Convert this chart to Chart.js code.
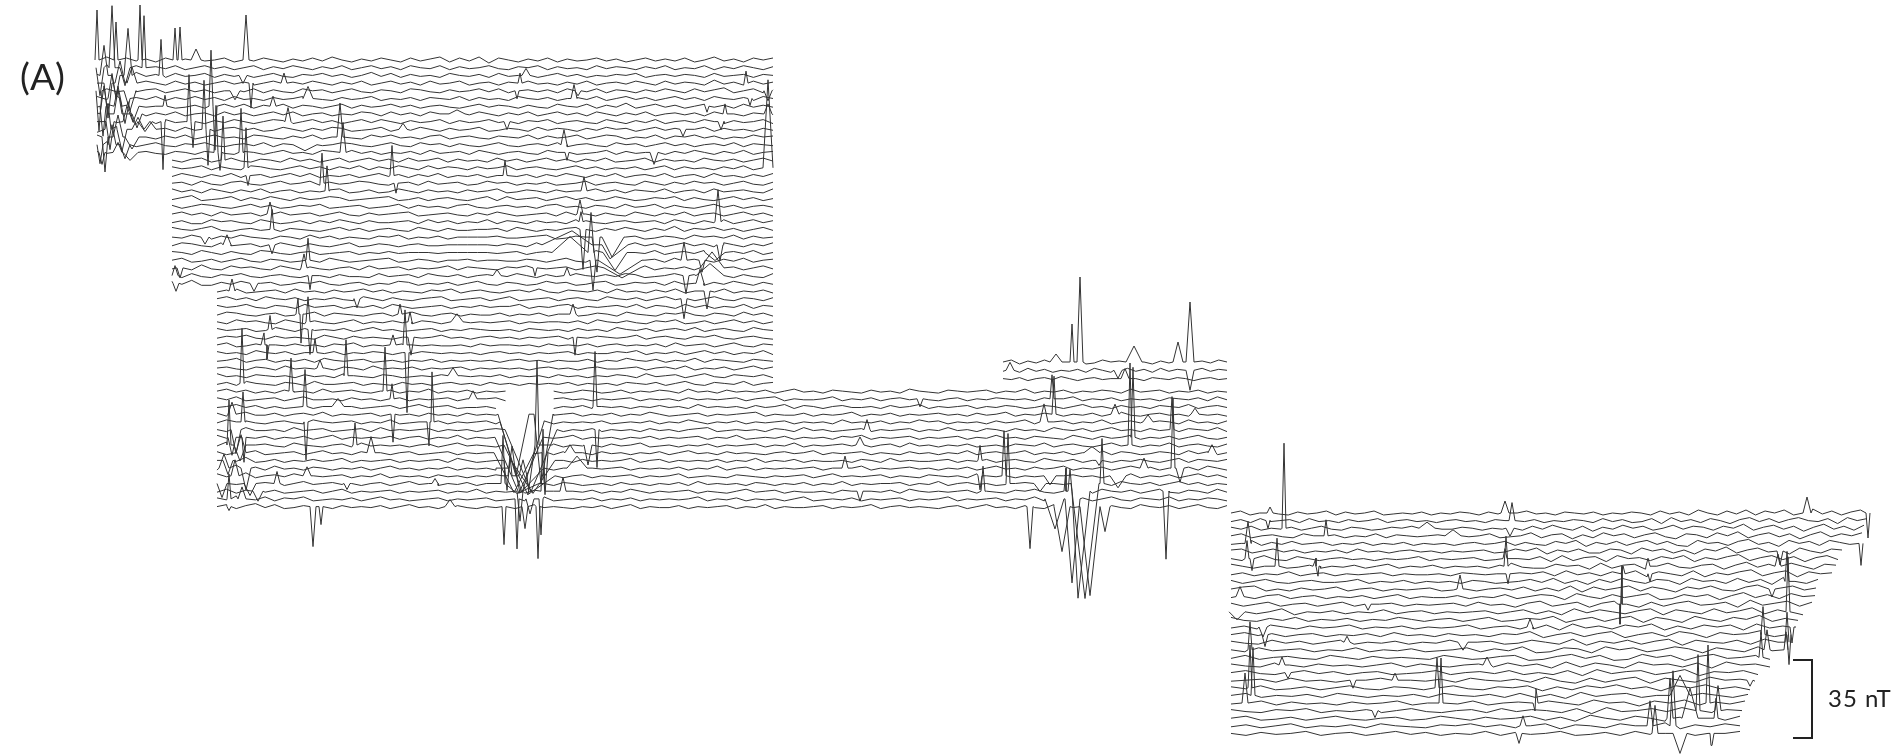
<!DOCTYPE html>
<html><head><meta charset="utf-8">
<style>
html,body{margin:0;padding:0;background:#fff;overflow:hidden}
#wrap{position:relative;width:1894px;height:755px}
canvas{position:absolute;left:0;top:0}
.t{position:absolute;font-family:Lato,"Open Sans",sans-serif;color:#222;white-space:nowrap;line-height:1}
#bracket{position:absolute;left:1793px;top:659px;width:18px;height:76px;border:solid #222;border-width:2.5px 2.5px 2.5px 0}
</style>
</head><body><div id="wrap">
<canvas id="c" width="1894" height="755"></canvas>
<div class="t" style="left:20px;top:57px;font-size:37px">(A)</div>
<div class="t" style="left:1828px;top:686px;font-size:24px;letter-spacing:1px">35 nT</div>
<div id="bracket"></div>
</div>
<script src="https://cdn.jsdelivr.net/npm/chart.js@4/dist/chart.umd.min.js"></script>
<script>
const traceMid=3;
const blockAStarts=[97,97,97,97,97,97,97,97,97,97,97,97,97,172,172,172,172,172,172,172,172,172,172,172,172,172,172,172,172,172,217,217,217,217,217,217,217,217,217,217,217,217,217,217,217,217,217,217,217,217,217,217,217,217,217,217,217,217,217];
const blockAEnds=[773,773,773,773,773,773,773,773,773,773,773,773,773,773,773,773,773,773,773,773,773,773,773,773,773,773,773,773,773,773,773,773,773,773,773,773,773,773,773,773,773,773,773,1227,1227,1227,1227,1227,1227,1227,1227,1227,1227,1227,1227,1227,1227,1227,1227];
const blockARows=[
[3,6,1,5,2,4,1,5,2,4,6,2,3,5,1,4,2,5,3,1,4,2,5,2,6,3,1,4,2,5,3,1,5,2,4,6,1,5,2,6,0,5,3,1,4,2,5,1,4,2,3,5,2,4,1,3,5,2,4,2,5,1,3,6,2,4,1,5,3,5],
[2,6,3,0,5,1,4,2,5,1,3,5,2,4,1,3,5,1,4,2,5,3,1,4,2,5,1,3,5,2,4,1,5,3,2,5,1,4,2,3,5,2,1,4,3,5,1,4,2,3,1,5,2,4,3,1,4,2,5,1,3,2,5,1,4,2,5,3,1,4],
[4,1,5,2,6,2,4,1,5,2,3,5,1,4,2,5,1,3,5,2,1,4,3,5,2,4,1,3,6,2,5,1,4,2,3,1,5,3,2,4,1,5,2,3,4,1,3,5,2,4,1,3,2,4,3,5,1,3,4,2,4,3,1,5,2,3,4,1,4,3],
[3,6,2,5,1,5,3,1,5,2,4,1,3,5,2,4,1,3,5,1,4,2,5,3,1,4,2,5,1,3,5,2,4,1,5,2,3,5,1,3,4,1,4,2,5,2,3,1,4,2,5,1,3,4,2,5,3,1,5,2,4,3,1,6,2,4,1,5,2,4],
[1,5,2,7,2,4,5,1,3,5,2,4,1,3,4,2,5,1,4,2,1,5,3,4,1,3,5,2,1,4,3,1,5,4,2,1,4,2,3,5,2,5,1,3,4,2,4,1,5,3,2,5,1,4,3,1,4,2,5,3,1,5,2,4,6,1,3,5,1,4],
[5,2,6,1,4,2,5,1,4,2,5,2,4,1,5,2,3,1,4,2,3,5,6,2,1,4,2,3,5,1,3,2,4,1,4,3,2,5,1,4,2,3,1,5,3,2,4,1,3,4,2,5,1,3,5,2,4,1,3,5,2,4,1,5,3,2,4,1,5,3],
[2,5,1,4,6,2,3,5,1,2,4,1,3,5,2,5,1,4,2,5,1,4,3,1,3,5,1,4,2,3,5,2,4,1,3,4,2,1,3,5,2,4,3,1,4,2,1,5,3,2,5,1,4,2,6,1,3,5,2,4,1,3,5,2,4,1,5,2,4,2],
[4,1,6,3,5,1,4,2,5,1,3,4,1,5,2,4,1,3,5,2,5,1,3,4,1,3,2,5,4,1,5,2,4,1,5,3,1,4,2,5,3,1,4,2,5,1,3,5,2,4,1,5,3,1,4,2,5,1,3,4,2,4,1,5,2,3,1,4,3,2],
[3,6,2,5,0,4,1,5,2,3,5,1,4,2,5,3,1,3,5,4,1,3,5,2,4,1,3,5,2,5,3,1,4,2,3,5,1,4,2,3,5,2,5,1,4,3,5,1,3,4,2,1,5,3,1,4,2,5,1,3,4,2,5,3,1,4,2,3,5,1],
[0,4,6,2,5,1,2,4,1,5,2,3,1,4,5,2,4,1,2,5,3,1,4,2,5,4,1,2,3,5,1,4,2,5,3,1,4,2,3,5,1,2,4,3,1,5,2,4,3,1,4,2,5,3,4,1,3,5,2,4,1,3,5,1,4,2,3,1,4,2],
[5,2,4,1,6,3,1,4,2,5,1,3,5,2,3,1,5,4,2,1,4,2,5,1,3,4,2,1,5,3,5,2,3,1,4,5,1,3,4,2,1,4,3,2,5,1,4,2,3,5,1,3,5,4,1,3,2,5,1,4,3,5,2,4,1,3,2,5,3,4],
[2,6,3,5,1,3,5,2,1,4,3,5,2,1,3,4,2,5,1,4,3,1,4,2,3,5,4,2,1,3,5,2,1,5,3,4,1,4,2,1,3,5,2,1,3,4,2,5,1,3,4,2,1,5,3,4,1,3,5,2,4,1,3,4,2,5,1,4,3,2],
[4,2,5,3,1,4,2,1,4,3,1,4,5,2,1,4,3,1,3,5,2,3,1,5,4,1,5,2,4,1,3,2,4,1,5,2,3,4,1,5,3,1,3,4,2,1,5,3,4,1,2,3,5,1,4,2,3,5,1,4,2,5,3,1,4,2,5,1,3,4],
[3,1,4,5,1,3,5,2,1,4,3,1,5,2,4,1,3,5,1,3,5,2,4,1,5,2,3,5,1,4,2,3,1,5,2,4,1,3,5,2,4,1,4,2,5,1,2,3,5,1,4,2,3,1,5,3,2,4,1,3,5,2],
[4,2,3,5,1,4,2,1,5,4,2,1,3,5,2,4,1,4,2,5,1,4,2,5,3,1,5,2,4,3,1,4,2,3,5,1,3,4,2,1,3,5,2,4,1,3,2,4,1,3,5,1,4,2,3,1,4,2,5,1,3,4],
[2,5,3,1,4,2,5,1,3,4,1,3,5,2,5,1,3,2,4,1,3,5,2,4,1,4,2,5,1,3,2,4,1,3,5,2,4,1,4,2,5,3,1,4,2,5,1,3,4,2,5,1,3,4,1,5,2,3,1,4,2,5],
[3,4,1,5,2,1,4,5,2,1,3,5,2,3,5,1,4,2,3,5,4,2,1,3,4,1,5,2,3,4,1,2,5,3,4,1,3,2,4,1,2,3,5,1,3,4,2,1,5,3,1,4,2,5,3,4,1,3,5,2,1,4],
[5,2,4,1,5,3,1,4,2,5,1,3,4,1,3,2,4,5,1,2,4,1,2,5,3,1,4,2,3,1,4,2,3,5,1,2,4,3,1,4,2,3,1,5,2,4,1,4,3,2,5,1,3,4,1,5,2,3,4,2,1,5],
[2,4,6,1,2,3,5,1,4,2,5,3,1,4,2,3,5,4,1,2,3,4,5,1,2,4,1,3,4,2,1,3,5,1,5,2,3,4,1,3,5,2,4,1,2,5,3,1,2,4,3,5,1,4,2,1,3,5,2,4,1,3],
[4,1,3,5,4,2,1,3,5,2,4,1,2,4,3,5,1,2,3,4,1,2,3,5,1,4,2,3,1,4,5,2,1,3,4,2,3,1,4,5,2,3,1,4,3,1,5,2,3,5,1,4,2,1,3,5,2,4,1,3,4,2],
[3,5,2,4,1,5,2,3,4,1,3,5,2,3,4,1,3,5,2,1,4,2,3,4,5,1,2,3,4,2,1,4,2,5,3,1,2,3,4,1,5,2,3,1,4,2,1,5,3,1,4,2,5,1,3,4,1,3,5,2,4,1],
[2,4,1,1,5,3,4,2,1,5,3,1,2,4,1,4,2,5,3,1,4,2,2,3,4,1,5,2,4,1,3,2,5,1,4,3,1,4,2,3,1,5,4,2,1,3,4,2,3,4,1,5,3,1,4,2,5,1,3,5,2,4],
[5,3,2,4,6,2,1,3,4,2,5,1,4,3,2,1,3,5,2,4,1,3,4,2,1,5,3,1,4,2,2,3,3,4,1,5,3,1,3,2,4,5,2,1,4,2,5,3,1,4,2,6,1,4,3,5,2,4,1,3,5,2],
[3,2,5,1,1,4,2,5,3,2,1,4,3,1,5,2,4,1,3,2,1,4,3,5,1,3,2,4,1,3,3,3,3,4,2,2,3,4,5,1,2,4,3,5,1,2,3,4,1,2,4,3,1,5,3,4,2,5,1,4,2,3],
[2,5,4,2,1,5,2,3,4,1,2,5,3,1,4,2,1,3,5,1,2,4,3,1,3,4,2,2,3,3,3,3,3,2,4,3,1,5,3,2,4,1,3,4,6,2,1,5,2,4,1,3,5,2,4,1,5,3,1,4,2,5],
[4,3,1,5,3,1,4,2,1,5,4,2,1,3,4,1,2,3,4,1,3,2,4,2,3,3,3,2,3,3,3,3,3,2,3,4,1,3,4,2,1,4,3,5,2,4,1,3,2,5,1,3,4,2,5,1,3,4,2,5,1,3],
[3,5,1,2,4,1,3,5,2,1,4,3,1,2,4,1,5,3,1,2,3,4,5,1,2,4,3,1,3,3,4,2,3,3,2,2,4,3,1,3,5,2,1,4,6,1,5,2,3,4,1,5,2,4,3,1,4,2,5,1,3,4],
[2,4,1,6,2,1,5,3,4,2,1,5,3,1,4,2,1,3,4,1,5,2,3,4,1,3,2,3,5,1,4,3,2,1,4,3,5,1,2,3,4,1,3,5,2,1,2,4,5,1,3,2,4,1,5,3,2,4,1,3,5,2],
[4,1,5,2,1,4,3,5,2,1,3,4,2,1,5,3,1,4,2,2,1,5,2,3,4,1,5,3,2,4,1,3,4,1,2,5,3,1,4,2,1,5,3,2,4,2,5,4,1,2,3,5,1,4,2,3,5,1,4,2,1,5],
[5,2,6,1,1,4,2,5,1,3,4,1,2,4,3,5,2,1,3,4,1,3,2,5,4,1,3,2,4,1,3,5,2,1,4,3,1,2,5,3,4,1,2,4,5,1,2,4,3,4,1,5,2,3,1,4,2,5,3,1,4,2],
[2,4,5,1,2,3,4,1,5,2,3,1,4,2,3,5,2,4,1,3,2,1,4,3,5,1,3,4,2,1,3,4,2,5,2,1,4,3,2,4,1,5,2,3,1,4,2,5,1,3,4,2,5,1,3,2,4,1],
[3,5,2,4,1,5,3,2,4,1,3,2,4,2,1,5,3,1,4,2,1,3,4,5,1,2,3,4,1,3,5,1,2,3,4,1,3,4,2,1,5,3,2,4,1,3,5,2,4,1,3,5,2,1,4,3,1,4],
[4,2,3,5,2,1,4,3,1,5,2,3,4,1,3,2,4,1,5,3,1,2,3,4,1,3,2,4,2,3,3,5,1,3,2,4,5,1,3,2,3,4,2,5,1,4,3,1,5,2,4,1,3,2,5,1,4,3],
[2,5,4,2,1,3,4,1,2,3,5,1,4,3,2,1,3,4,1,3,5,2,1,3,4,1,3,2,2,4,1,3,2,4,1,3,3,1,2,4,3,1,5,3,2,1,4,3,5,2,1,4,3,1,5,2,4,1],
[3,1,5,3,4,2,1,5,3,1,4,2,1,3,5,1,3,2,4,2,1,4,3,1,3,5,2,3,2,3,4,1,3,2,3,3,2,4,1,5,3,2,4,2,1,4,3,5,1,2,4,1,3,5,2,4,1,3],
[4,2,3,4,1,2,5,3,1,4,2,3,2,4,1,3,5,2,3,1,2,3,4,1,3,2,4,3,2,2,3,1,4,3,2,3,1,4,2,3,1,5,3,2,4,1,3,4,2,5,1,3,4,2,1,5,3,2],
[2,4,3,5,2,1,4,2,3,2,1,5,3,1,4,2,3,2,1,3,4,2,3,5,2,3,1,3,4,2,3,1,3,2,3,4,1,3,2,4,3,2,3,5,1,3,4,2,1,4,3,5,2,1,3,4,2,1],
[3,5,1,2,4,1,3,2,4,2,3,1,4,3,5,1,3,2,1,4,3,2,3,2,2,3,1,4,2,3,3,2,3,1,4,2,3,2,4,1,3,4,2,3,2,4,1,5,2,3,4,1,3,5,2,1,4,3],
[4,2,3,1,5,3,2,4,1,3,2,2,4,1,3,2,4,3,1,3,2,4,3,2,3,2,3,1,3,4,2,3,1,3,2,3,4,1,3,2,2,4,3,5,1,3,2,4,1,3,5,2,4,1,3,2,5,1],
[2,3,5,1,3,4,1,3,2,4,1,5,3,2,3,4,1,2,3,1,3,2,4,1,3,2,3,2,3,1,3,4,2,3,1,3,2,2,4,1,3,2,5,3,2,4,1,3,2,5,1,4,3,2,1,4,3,2],
[3,4,2,1,4,3,1,5,2,3,2,3,1,4,3,1,5,2,3,2,4,1,3,2,3,4,1,3,2,3,2,3,1,3,4,2,3,1,3,4,2,2,3,4,1,3,4,2,5,1,3,2,4,1,3,5,2,4],
[5,2,3,1,4,3,2,3,1,4,2,3,1,5,3,2,1,4,3,1,2,3,2,4,1,3,2,3,2,4,1,3,2,3,1,4,2,3,1,3,2,4,3,1,5,2,3,4,1,3,5,2,1,4,3,2,4,1],
[2,4,1,5,3,2,1,4,3,1,5,2,2,3,4,1,3,2,1,4,2,3,1,3,4,2,3,1,4,2,3,1,3,2,3,2,4,1,3,2,3,1,4,3,2,4,1,3,5,2,1,4,3,2,5,1,3,4],
[3,5,2,4,1,3,1,4,2,3,1,5,2,3,4,2,1,3,4,1,3,2,5,1,3,2,4,1,3,2,3,1,3,4,2,3,1,2,4,3,1,2,4,1,3,2,4,3,1,5,2,3,1,4,2,3,2,4,1,3,5,2,3,1,4,3,2,1,4,2,3,1,5,3,2,1,4,3,2,3,4,1,3,2,5,1,3,2,4,1,3,2,4,3,1,5,2,3,4,1,3,2,4,1,3,2],
[4,2,5,1,2,3,4,1,3,5,2,2,3,1,4,2,3,1,2,4,1,3,2,3,4,1,3,2,3,4,1,5,3,2,1,3,4,2,3,1,3,2,3,4,1,3,2,3,1,4,2,3,2,3,4,1,3,4,5,1,3,2,2,3,5,1,3,2,4,1,3,4,2,3,2,1,3,4,1,3,2,4,3,2,3,1,4,2,3,5,1,3,2,4,1,3,2,3,1,4,3,2,4,1,5,2],
[2,3,5,2,4,1,3,1,2,4,1,3,2,5,3,1,2,3,4,1,3,5,2,3,4,1,2,2,3,1,3,4,2,3,4,1,3,2,4,1,3,2,3,1,3,2,4,2,3,1,5,2,3,2,3,1,4,2,3,5,1,4,3,1,3,4,2,2,3,1,4,2,3,5,1,3,2,3,4,1,3,2,4,3,1,2,4,3,1,3,5,2,3,1,4,2,3,1,4,3,2,5,1,3,4,2],
[4,1,3,5,2,2,4,1,3,4,2,5,1,3,2,3,4,1,3,2,3,1,4,2,3,1,4,2,3,2,3,2,4,1,3,2,3,4,1,3,2,4,1,3,2,5,3,1,2,3,4,1,3,2,3,4,5,1,3,2,2,4,1,3,2,3,5,1,3,2,4,1,3,2,3,4,2,3,1,4,2,3,5,1,3,2,4,3,1,3,2,4,1,3,5,2,1,3,4,2,3,1,5,2,3,1],
[2,5,3,4,2,1,3,4,2,1,5,3,2,3,4,1,3,2,5,1,2,3,2,4,1,3,2,3,4,1,2,3,2,3,4,1,3,2,3,2,4,1,2,3,2,4,1,3,2,5,3,1,3,2,4,1,3,2,3,4,1,3,2,3,1,5,2,3,2,4,1,3,2,5,3,4,1,3,2,3,1,4,2,3,5,1,2,3,4,1,3,2,5,1,3,4,2,1,4,3,1,5,2,3,1,4],
[3,1,4,5,2,2,3,1,5,2,3,4,1,2,3,4,1,5,2,3,2,3,4,1,3,2,3,1,3,4,2,3,1,5,2,3,1,3,2,4,1,3,2,3,1,4,2,3,1,3,4,5,1,2,3,2,3,1,4,3,1,5,2,3,1,2,3,4,1,3,2,3,4,1,3,2,5,2,3,1,4,3,1,4,2,3,1,5,3,2,4,1,3,5,2,3,1,4,2,3,1,4,3,2,5,1],
[5,2,3,6,2,4,1,3,2,4,1,3,5,1,3,2,3,2,4,1,3,4,1,3,2,5,1,3,2,3,2,3,4,1,3,2,3,5,1,3,2,3,1,3,2,4,1,3,2,3,4,1,3,2,5,1,2,3,2,4,1,3,2,3,1,4,3,5,1,3,2,3,4,1,3,2,3,4,1,3,2,5,2,3,1,4,3,2,1,5,3,1,4,2,3,5,1,3,2,4,1,3,5,2,1,3],
[2,6,1,5,3,4,2,1,5,3,2,1,3,4,1,5,2,3,2,3,1,3,4,1,3,5,2,3,2,1,3,4,1,3,2,4,1,3,2,3,1,4,2,3,5,1,2,3,1,3,2,4,1,3,2,3,4,1,3,2,5,1,3,2,3,4,2,3,1,3,4,1,5,2,3,1,3,2,4,1,2,3,1,4,3,2,5,1,3,4,2,1,3,5,2,4,1,3,2,5,1,3,4,2,1,4],
[4,1,6,2,5,1,2,3,4,1,3,5,2,3,1,4,2,3,1,3,4,1,2,3,4,1,3,2,3,5,1,3,2,2,3,1,4,2,3,1,4,2,3,1,3,2,4,1,3,5,2,3,1,4,2,3,2,1,3,4,2,3,5,1,3,2,3,4,1,3,2,1,4,2,3,1,3,2,5,1,3,4,2,3,5,1,3,2,4,1,3,2,5,1,4,3,1,2,4,3,1,5,2,4,1,3],
[3,5,2,6,1,2,4,1,3,2,4,2,3,5,1,3,2,3,4,1,3,2,3,4,1,5,3,1,2,3,2,3,4,1,3,2,3,1,4,2,3,2,3,5,1,3,4,1,3,2,3,2,4,1,3,2,5,1,3,2,4,1,3,2,2,3,1,4,3,1,5,2,3,2,2,3,4,1,3,2,4,1,3,4,2,1,5,3,2,4,1,3,5,1,3,2,4,2,1,3,5,1,4,3,2,4],
[1,4,6,2,4,1,5,2,3,1,4,3,1,3,2,4,1,3,5,2,3,1,3,2,4,1,3,2,3,1,4,2,3,2,3,1,3,5,1,3,2,3,4,1,3,2,3,2,4,1,3,2,5,1,3,4,1,3,2,3,2,3,4,1,3,2,3,5,1,3,2,3,4,2,3,1,3,2,4,1,3,5,2,3,1,4,2,3,5,1,3,2,4,1,3,5,2,4,1,3,2,4,1,5,3,1],
[5,2,4,6,1,3,4,2,5,1,3,2,3,4,1,3,2,5,1,3,2,3,1,4,2,3,1,3,2,4,3,1,5,2,2,3,1,3,4,1,3,2,3,4,1,3,2,3,5,1,2,3,2,1,4,3,2,1,3,2,3,4,1,3,5,2,3,2,3,4,1,3,2,1,4,3,2,3,1,5,3,2,4,1,3,2,5,1,3,4,2,3,1,4,3,5,1,3,2,4,1,3,5,2,4,1],
[3,6,2,5,3,4,2,1,3,5,2,3,4,2,3,1,3,4,1,3,5,2,3,1,3,2,4,1,3,2,3,1,5,2,3,1,4,3,1,2,3,1,4,2,3,1,3,2,4,1,5,2,3,2,3,1,4,3,1,3,2,4,1,3,2,5,1,3,2,3,3,4,1,3,2,5,1,3,4,2,3,1,2,3,4,1,5,3,2,1,3,4,2,1,5,3,2,4,1,3,5,2,4,1,3,2],
[2,5,1,4,6,2,4,1,2,3,4,1,3,5,1,3,2,3,4,1,3,2,3,4,1,3,2,5,1,3,2,3,1,4,2,3,1,3,2,4,1,3,2,5,3,1,3,2,3,4,1,3,2,1,3,5,2,3,4,1,3,2,2,3,1,4,3,1,3,2,4,1,5,3,2,3,2,3,4,1,3,2,1,4,3,5,2,1,3,4,2,1,5,3,2,4,1,3,5,2,1,4,3,1,5,2],
[4,2,6,3,2,5,1,4,3,5,1,2,3,2,4,1,3,5,2,3,1,2,3,4,1,3,2,3,4,1,2,3,1,3,5,1,2,3,2,4,1,3,2,4,1,3,2,3,2,3,5,1,3,2,4,1,3,2,3,1,3,5,1,2,3,2,4,1,3,2,3,4,1,3,2,3,5,1,3,2,3,4,1,3,2,5,1,4,3,2,4,1,3,5,2,1,4,3,2,5,1,3,2,4,3,1],
[3,5,1,4,6,2,5,1,2,4,5,1,1,4,2,3,2,4,1,3,5,2,3,1,3,4,2,1,3,2,4,1,3,5,2,3,2,1,3,2,4,1,3,5,1,3,2,2,4,1,3,2,3,4,1,3,2,5,1,3,2,2,3,4,1,3,2,3,5,1,3,4,2,3,2,1,3,4,1,3,5,2,3,1,4,2,1,5,3,2,4,1,3,4,2,1,5,3,2,4,1,3,5,2,1,4]
];
const blockAGaps=[[43,508,548],[44,506,550],[45,505,551]];
const blockAMarks=[
[0,97,50,2],[1,112,62,3],[0,116,38,2],[2,128,47,4],[0,140,55,2],[1,144,52,2],[2,161,36,2],[0,175,32,2],[0,180,33,2],[0,196,11,5],[0,246,45,3],
[1,100,-28,4],[2,104,30,4],[3,108,-35,4],[4,99,-40,3],[5,112,25,4],[6,103,-30,3],[7,118,24,4],[8,110,-28,4],[9,122,-22,5],[10,105,-35,3],[11,100,-19,3],[12,102,-12,3],[3,120,22,5],[5,125,-25,5],[6,118,20,4],[7,104,28,4],[8,128,20,5],[9,108,26,3],[10,118,22,5],[11,125,-14,5],[4,130,-20,6],[2,116,-22,4],[1,125,-18,5],[3,132,16,5],[6,133,-16,6],[7,137,-14,5],[9,138,12,6],[11,112,20,4],[12,118,10,5],[10,132,-12,7],[12,130,-8,8],[8,145,-10,7],[9,150,8,6],
[8,163,-48,2],[6,165,11,2],[6,211,56,2],[6,215,-44,2],[8,189,47,2],[8,193,-26,2],[9,204,49,2],[9,208,-36,2],[12,216,47,2],[12,220,-18,2],[13,223,44,2],[12,241,44,2],[14,246,40,2],[15,248,-10,2],[16,322,30,2],[17,327,25,2],[10,340,34,3],[12,343,30,3],[15,392,30,2],[16,396,-10,2],[3,284,10,3],[5,308,12,5],[6,273,10,3],[8,288,14,3],[4,235,-9,5],[3,251,-25,2],[2,243,-8,4],[11,305,-6,12],
[28,175,10,3],[29,176,-8,3],[27,180,-10,3],[20,270,12,3],[22,272,20,2],[24,272,-9,3],[26,308,22,2],[28,310,-14,2],[27,304,14,3],[24,227,10,4],[23,205,-7,4],[29,254,-8,4],[4,517,-8,2],[3,520,10,2],[5,574,14,3],[4,578,-5,3],[3,746,12,2],[5,750,-7,2],[7,768,10,4],[14,768,88,5],[4,768,-10,4],[8,721,-8,3],[7,725,10,2],[11,564,15,3],[12,567,-8,2],[12,654,-12,4],[15,505,15,2],[2,526,7,4],[7,457,4,8],[8,507,-8,3],[9,403,6,4],[9,683,-7,3],[6,707,-6,2],
[17,584,14,3],[20,580,14,3],[21,581,10,2],[22,583,-40,3],[25,591,40,3],[26,593,-30,3],[23,597,-35,5],[24,572,14,30],[25,570,16,18],[24,610,-14,18],[25,615,-18,12],[26,620,-14,22],[27,622,-10,18],[23,612,-20,12],[21,718,32,3],[24,720,-16,3],[26,684,18,3],[28,686,-18,3],[26,702,-12,3],[27,712,16,12],[28,710,12,14],[25,715,-8,10],[31,684,-20,3],[27,535,-8,2],[29,700,14,4],[30,707,-18,3],[28,497,6,4],[28,567,8,3],
[30,232,12,3],[42,242,55,2],[35,270,14,2],[37,264,12,3],[37,267,-14,2],[33,298,16,2],[33,301,-29,2],[34,308,25,2],[35,310,-25,2],[43,291,33,2],[38,315,14,2],[41,346,36,2],[43,385,44,2],[37,393,10,3],[33,400,10,2],[37,405,35,2],[38,407,-60,2],[34,410,10,2],[36,411,-18,3],[44,392,15,2],[46,393,-28,2],[47,432,50,2],[47,429,-24,2],[45,305,37,2],[47,306,-38,2],[50,355,22,2],[51,371,16,4],[40,320,8,3],[45,338,8,6],[31,357,-9,3],[34,457,8,6],[41,453,8,5],[44,473,8,4],[51,570,8,5],[56,563,14,3],[55,435,5,3],[55,347,-6,3],[54,307,9,4],[55,277,12,3],[58,450,7,5],
[50,229,45,2],[57,229,25,2],[47,243,30,2],[49,244,-25,2],[46,232,12,4],[48,236,-24,5],[49,232,-18,4],[51,241,18,5],[52,228,-14,5],[53,246,-22,5],[54,235,16,4],[55,250,-12,6],[56,258,-10,5],[57,242,12,4],[58,229,-4,2],[53,224,14,5],[50,240,-16,6],[55,222,-14,5],
[45,595,55,2],[48,597,-38,2],[33,573,10,3],[36,575,-18,2],[50,588,-20,4],[53,577,12,10],
[46,516,-62,18],[46,541,-70,12],[47,522,-71,22],[48,531,-62,26],[49,519,-56,24],[50,528,-50,24],[51,514,-40,20],[52,533,-33,22],[53,520,-25,24],[54,529,-18,26],[55,517,-10,22],
[58,504,-38,2],[57,517,-50,2],[58,525,-22,3],[58,538,-52,2],[57,541,-36,2],[55,503,48,2],[54,510,20,2],[56,543,62,2],[50,537,85,2],[54,523,16,4],[52,507,-30,3],[53,512,22,3],[51,545,-42,3],[56,520,-30,3],[57,530,-15,4],
[58,313,-40,3],[58,321,-18,2],[44,1052,24,2],[46,1054,38,2],[50,1130,82,2],[49,1133,70,2],[48,1172,33,2],[53,1173,70,2],[54,1004,45,2],[55,1008,50,2],[52,980,15,2],[54,980,-14,2],[56,983,25,2],[55,1102,45,2],[56,1066,23,2],[56,1070,22,2],[47,1044,18,4],[53,1144,10,4],[56,1166,-68,3],[58,1030,-42,3],[53,1180,-14,4],[52,1099,-5,3],
[58,1062,-45,8],[57,1055,-30,10],[57,1072,-84,8],[56,1078,-107,12],[55,1085,-115,14],[58,1090,-89,10],[58,1105,-25,5],[54,1118,-12,8],[54,1050,-9,6],[55,1040,-8,6],
[48,867,10,3],[44,920,-8,3],[50,860,8,4],[53,845,12,3],[56,860,-10,3],[51,1092,6,8],[46,1115,10,4],[47,1148,7,5],[51,1212,8,4],[46,1195,6,4]
];
const topStarts=[1003,1003,1003];
const topEnds=[1227,1227,1227];
const topRows=[
[3,5,1,4,2,5,1,5,3,4,1,2,5,3,4,1,4,3,1,4,2,5,3,1,4,2,5,3],
[2,6,1,5,2,4,1,3,2,4,1,5,3,1,3,5,2,4,1,5,2,4,3,1,5,2,4,3],
[3,2,4,1,3,4,2,5,3,1,3,4,2,3,3,2,3,1,4,3,2,4,3,1,3,4,2,3]
];
const topMarks=[[0,1072,38,2],[0,1080,85,3],[0,1190,60,4],[0,1178,20,5],[0,1134,16,8],[0,1056,8,6],[1,1190,-20,4],[1,1010,8,4],[2,1125,10,4],[1,1118,-8,4]];
const blockDEnds=[1870,1867,1864,1862,1860,1842,1838,1836,1832,1818,1816,1815,1812,1803,1798,1796,1788,1778,1772,1770,1770,1758,1755,1750,1748,1745,1742,1740,1740,1740];
const blockDRows=[
[3,5,1,3,5,2,1,4,2,3,5,1,4,2,3,5,1,2,3,2,4,1,3,2,4,3,1,4,2,1,3,5,2,3,1,4,3,2,4,1,3,2,4,3,1,5,2,4,1,6,3,1,5,2,6,1,5,3,6,1,4,7,2,5,1,4,6,2],
[2,4,1,5,2,3,4,1,5,2,3,1,4,2,3,5,1,3,4,2,3,1,3,4,2,3,1,4,3,5,2,4,1,3,2,4,3,1,5,2,4,1,2,5,0,6,2,4,1,5,3,0,4,6,2,5,1,4,6,3,2,5,0,6,3,5],
[4,2,5,1,3,2,4,1,3,5,2,1,4,3,1,2,4,3,5,1,3,2,2,4,3,1,3,2,4,1,5,2,6,3,1,5,0,4,2,6,3,5,1,3,6,2,5,4,1,5,3,7,1,4,6,2,5,0,4,7,2,5,1,6],
[3,5,1,3,4,2,1,5,3,2,4,1,3,2,5,1,4,3,2,3,4,1,3,2,3,5,1,2,3,6,1,4,5,0,4,1,6,3,5,1,4,6,2,0,5,4,1,6,3,7,1,4,6,2,5,0,4,7,2,5,3,6],
[2,3,6,1,4,2,5,2,3,4,1,3,2,4,1,3,2,4,1,3,2,3,1,3,4,2,3,5,1,4,2,1,5,3,6,0,4,2,5,1,4,6,2,5,1,0,6,3,4,1,5,7,2,4,0,6,3,5,1,6,4,2,7],
[4,5,1,3,5,2,4,1,3,2,4,1,5,2,3,1,3,4,2,3,1,3,2,3,4,1,2,5,3,6,0,4,2,5,1,1,5,4,0,6,3,5,1,4,0,5,3,7,1,4,6,2,5,0,6,3,1,5,4],
[3,1,4,6,2,1,5,3,1,3,4,2,3,1,3,2,3,5,1,3,2,3,4,1,2,5,3,2,5,0,6,1,4,5,0,6,3,4,1,5,3,6,0,4,2,5,7,1,4,6,2,5,0,4,6,2],
[5,3,1,3,5,1,2,4,1,3,2,4,1,3,5,1,3,2,4,1,3,2,3,1,4,6,2,1,1,5,3,4,0,6,1,4,5,0,3,6,2,1,4,5,0,4,7,2,5,1,6,3,0,5,4],
[2,4,1,3,2,5,1,3,4,1,3,2,3,4,1,3,2,2,3,1,4,3,2,3,1,4,3,5,1,6,2,4,1,5,3,6,0,5,3,1,6,0,4,2,5,7,1,4,6,0,5,3,4],
[4,1,3,5,2,1,3,4,2,2,3,5,1,3,2,4,1,3,2,3,1,4,3,1,2,3,5,2,6,1,4,0,5,2,6,3,1,5,4,0,6,3,4,1,6,2,5,0,7,3,1,5],
[3,5,6,1,3,1,4,2,3,5,1,3,4,1,3,2,3,4,1,2,3,1,3,4,2,5,1,4,1,6,0,5,2,4,6,1,5,3,0,5,3,6,2,1,5,7,0,4,6,2,4],
[2,6,1,4,5,1,3,4,1,3,2,4,1,3,5,1,3,2,2,4,1,3,2,5,1,3,5,4,0,6,3,1,5,2,4,6,0,1,5,3,5,0,4,7,2,5,1,6,3,4],
[4,1,3,5,1,3,4,1,3,5,1,2,3,4,1,3,2,3,4,1,5,2,3,0,4,6,1,3,5,0,4,6,3,0,5,1,4,6,2,3,5,0,7,2,4,6,1,5],
[3,4,1,3,6,0,3,2,4,1,3,2,5,1,3,4,1,3,2,3,4,1,3,5,1,4,0,6,2,5,3,1,4,6,0,5,3,1,6,2,4,7,1,5,3,0],
[5,2,1,4,2,5,1,3,2,4,1,3,2,5,3,1,3,4,1,3,5,1,2,4,3,6,0,3,5,1,4,6,0,5,3,0,6,3,1,5,3,7,1,4,2],
[2,4,1,5,3,1,4,2,3,5,1,3,2,4,1,3,2,3,5,1,3,4,1,1,5,0,6,2,4,1,5,3,6,0,4,1,5,3,5,0,6,2,4,3],
[3,5,2,4,1,3,4,1,3,2,4,1,5,2,3,1,4,2,3,1,4,3,6,0,3,5,1,4,6,0,3,5,1,6,4,0,5,3,4,7,1,5],
[4,2,1,5,2,4,1,3,5,1,3,2,4,1,3,2,5,1,3,4,1,2,5,3,1,6,0,4,2,5,1,4,6,0,5,3,2,5,1,6,3],
[3,1,5,2,3,4,1,3,2,5,1,3,2,4,1,2,3,5,1,4,2,6,0,1,5,4,0,6,3,5,1,3,6,4,0,5,3,1,6,2],
[2,5,1,3,4,2,1,5,3,1,4,2,3,2,1,5,3,1,2,4,5,0,1,4,6,2,5,0,1,6,3,5,0,4,6,2,3,5,1],
[4,2,1,5,3,1,4,2,3,1,3,5,1,4,2,1,3,4,1,5,2,4,0,6,1,5,3,0,6,3,4,1,5,0,6,3,4,1],
[3,5,2,1,3,5,2,4,1,3,4,1,2,3,5,1,3,4,2,5,1,3,1,5,0,6,2,4,5,1,3,6,0,4,3,5,1],
[2,3,4,1,5,2,3,1,4,3,5,1,3,2,4,1,5,3,2,4,1,6,2,0,5,1,4,6,0,5,3,1,6,3,4,2],
[4,2,5,1,2,4,1,3,5,2,1,4,3,1,3,5,2,1,4,3,5,0,4,1,5,3,6,2,4,0,5,3,6,2,4,1],
[3,5,1,3,2,4,1,5,3,1,3,2,4,1,5,3,2,4,1,5,1,4,0,6,2,4,5,1,3,6,0,5,3,1,4],
[2,3,5,1,4,2,3,1,4,2,3,5,1,3,4,2,5,1,3,4,0,5,3,1,6,3,4,0,5,3,6,1,4,2,5],
[4,2,1,4,3,5,1,3,2,4,1,3,5,2,1,3,4,1,5,2,4,3,1,5,0,6,2,3,5,2,6,0,1,4,3],
[3,5,1,2,4,1,3,5,2,1,3,4,1,2,5,3,1,4,2,3,5,1,4,0,6,3,1,5,3,0,4,6,3,1,5],
[2,4,1,3,5,1,3,2,4,1,5,3,2,1,4,3,5,2,4,1,3,5,0,4,3,1,5,3,2,6,0,4,2,5,3],
[3,1,4,2,3,5,1,3,4,1,3,5,2,4,1,3,2,5,1,4,2,3,5,1,2,4,1,5,2,3,6,1,4,3,5]
];
const blockDMarks=[
[2,1284,85,2],[6,1247,18,2],[6,1252,-12,2],[4,1248,22,3],[0,1270,6,3],[1,1268,-8,2],[7,1277,28,2],[3,1326,16,2],[7,1316,8,3],[7,1318,-10,2],[13,1237,-8,8],[11,1240,10,4],[15,1263,-10,4],[18,1250,28,2],[23,1250,43,2],[24,1253,48,2],[25,1245,30,3],[23,1437,30,2],[25,1441,45,2],[10,1460,14,3],[6,1505,10,2],[7,1506,30,2],[8,1508,-10,2],[0,1505,12,4],[1,1512,18,3],[2,1510,-8,4],[29,1519,-10,3],[28,1523,10,3],[25,1535,-8,3],[3,1453,6,8],[20,1282,8,3],[2,1427,6,8],[12,1368,-6,3],[16,1265,-12,3],[17,1347,6,3],[21,1288,-6,3],[22,1395,7,3],[22,1353,-8,3],[25,1536,14,3],[26,1375,-7,3],[15,1530,8,3],[17,1463,-8,5],[20,1487,8,4],
[0,1807,16,4],[0,1868,-25,2],[4,1861,-22,2],[9,1787,30,2],[13,1788,55,2],[17,1787,30,2],[16,1789,-30,2],[18,1786,18,2],[15,1792,-16,2],[8,1623,8,2],[12,1622,38,2],[12,1620,-20,2],[7,1648,8,2],[8,1650,-8,2],[16,1763,28,2],[19,1761,25,2],[18,1767,20,3],[25,1708,58,2],[29,1711,-12,3],[26,1698,56,2],[28,1673,55,3],[27,1670,40,3],[29,1655,28,3],[28,1650,25,3],[29,1680,-20,7],[27,1690,30,8],[27,1716,20,2],[26,1718,25,3],[29,1712,-12,2],[24,1680,20,10],[5,1780,-14,3],[7,1778,12,3],[10,1772,-8,3],[22,1750,-6,3]
];
const blockATop=60,blockARowGap=7.7,topBlockTop=362,topBlockGap=8.3,blockDTop=513,blockDRowGap=7.6,blockDStart=1231;

const H=755;
function trace(values,start,end,top,marks,gaps){
  const n=values.length;
  let pts=values.map((v,i)=>({x:start+i*(end-start)/(n-1),y:H-top+v-traceMid}));
  marks.forEach(m=>{const w=m[3];pts=pts.filter(p=>p.x<m[1]-w||p.x>m[1]+w);});
  gaps.forEach(g=>{pts=pts.filter(p=>p.x<g[1]||p.x>g[2]);pts.push({x:(g[1]+g[2])/2,y:null});});
  marks.forEach(m=>{pts.push({x:m[1]-m[3],y:H-top},{x:m[1],y:H-top+m[2]},{x:m[1]+m[3],y:H-top});});
  pts.sort((a,b)=>a.x-b.x);
  return pts;
}
const datasets=[];
function add(pts){datasets.push({data:pts,showLine:true,borderColor:'#333',borderWidth:1,pointRadius:0,tension:0,borderJoinStyle:'miter'});}
blockARows.forEach((r,k)=>add(trace(r,blockAStarts[k],blockAEnds[k],blockATop+k*blockARowGap,blockAMarks.filter(m=>m[0]===k),blockAGaps.filter(g=>g[0]===k))));
topRows.forEach((r,k)=>add(trace(r,topStarts[k],topEnds[k],topBlockTop+k*topBlockGap,topMarks.filter(m=>m[0]===k),[])));
blockDRows.forEach((r,k)=>add(trace(r,blockDStart,blockDEnds[k],blockDTop+k*blockDRowGap,blockDMarks.filter(m=>m[0]===k),[])));
new Chart(document.getElementById('c'),{type:'scatter',data:{datasets},options:{responsive:false,animation:false,events:[],layout:{padding:0},plugins:{legend:{display:false},tooltip:{enabled:false},title:{display:false}},scales:{x:{type:'linear',min:0,max:1894,display:false},y:{type:'linear',min:0,max:755,display:false}}}});
</script>
</body></html>
